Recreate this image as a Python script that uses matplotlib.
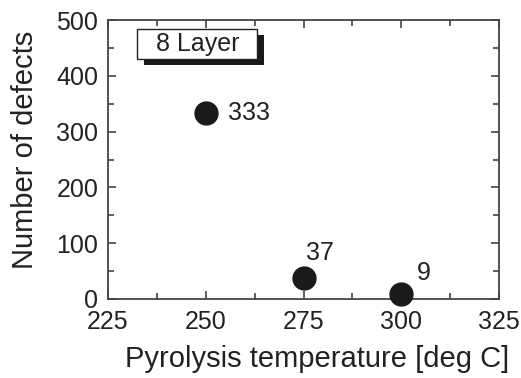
import matplotlib.pyplot as plt
from matplotlib.ticker import MultipleLocator
from matplotlib.patches import Rectangle

plt.rcParams['font.family'] = ['Liberation Sans', 'DejaVu Sans']

temps = [250, 275, 300]
defects = [333, 37, 9]
# label offsets in points
offsets = [(16, 0), (2, 18), (11, 15)]

fig = plt.figure(figsize=(5.21, 3.78), dpi=100)
ax = fig.add_axes([108/521, 1 - 299/378, (499-108)/521, (299-20)/378])

ax.scatter(temps, defects, s=16.5**2, color='#1a1a1a', zorder=3, clip_on=False)
for t, d, off in zip(temps, defects, offsets):
    ax.annotate(str(d), (t, d), xytext=off, textcoords='offset points',
                fontsize=18, color='#222222', va='center', ha='left')

ax.set_xlim(225, 325)
ax.set_ylim(0, 500)
ax.xaxis.set_major_locator(MultipleLocator(25))
ax.xaxis.set_minor_locator(MultipleLocator(12.5))
ax.yaxis.set_major_locator(MultipleLocator(100))
ax.yaxis.set_minor_locator(MultipleLocator(50))
ax.tick_params(which='both', direction='in', top=True, right=True,
               labelsize=18, colors='#333333', labelcolor='#222222', width=1.1)
ax.tick_params(which='major', length=6)
ax.tick_params(which='minor', length=4)
ax.tick_params(axis='x', which='major', pad=8)
ax.tick_params(axis='y', which='major', pad=7)
for s in ax.spines.values():
    s.set_linewidth(1.3)
    s.set_color('#444444')

ax.set_xlabel('Pyrolysis temperature [deg C]', fontsize=21, color='#222222', va='center')
ax.set_ylabel('Number of defects', fontsize=21, color='#222222', va='center')
ax.xaxis.set_label_coords(0.535, -0.215)
ax.yaxis.set_label_coords(-0.212, 0.534)

# boxed caption with drop shadow
bx, by, bw, bh = 0.075, 0.86, 0.307, 0.108
ax.add_patch(Rectangle((bx + 0.018, by - 0.02), bw, bh, transform=ax.transAxes,
                       facecolor='#1a1a1a', edgecolor='none', zorder=4))
ax.add_patch(Rectangle((bx, by), bw, bh, transform=ax.transAxes,
                       facecolor='white', edgecolor='#222222', linewidth=1.0, zorder=5))
ax.text(bx + bw / 2, by + bh / 2, '8 Layer', transform=ax.transAxes,
        fontsize=18, ha='center', va='center', color='#222222', zorder=6)

fig.savefig('out.png', dpi=100)
